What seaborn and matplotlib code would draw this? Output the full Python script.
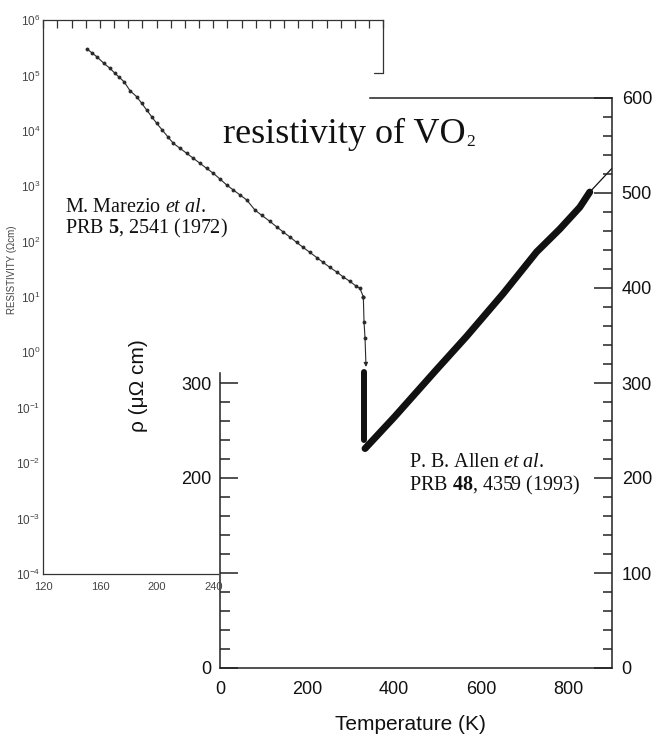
import matplotlib
matplotlib.use("Agg")
import matplotlib.pyplot as plt
import seaborn as sns
from matplotlib.ticker import FixedLocator, FixedFormatter, NullFormatter

# --- Marezio et al., PRB 5, 2541 (1972): resistivity in Ohm cm (log scale) ---
old_T = [151.1, 154.2, 157.7, 162.8, 167.1, 170.6, 173.6, 177.0, 181.2, 185.9,
         189.5, 193.0, 196.5, 200.0, 204.0, 208.2, 211.8, 216.5, 221.2, 225.9,
         230.6, 235.3, 240.0, 244.7, 249.5, 254.1, 258.9, 263.6, 269.4, 274.4,
         280.0, 284.8, 289.4, 294.1, 298.9, 303.5, 308.3, 313.0, 317.6, 322.4,
         327.1, 331.8, 336.5, 340.7, 343.5, 345.9]
old_rho = [2.96e5, 2.57e5, 2.18e5, 1.65e5, 1.34e5, 1.09e5, 9.25e4, 7.69e4, 5.30e4, 4.13e4,
           3.13e4, 2.37e4, 1.80e4, 1.37e4, 1.03e4, 7.63e3, 5.94e3, 4.83e3, 3.93e3, 3.19e3,
           2.59e3, 2.10e3, 1.71e3, 1.35e3, 1.05e3, 855, 694, 564, 371, 296,
           231, 184, 149, 121, 96.4, 78.3, 63.6, 51.6, 42.0, 34.1,
           28.3, 23.0, 19.1, 15.8, 14.3, 10.1]
# drop through the metal-insulator transition
drop_T = [345.9, 346.4, 347.1]
drop_rho = [10.1, 3.54, 1.82]
arrow_T, arrow_rho = 347.8, 0.546

old_decades = [-4, -3, -2, -1, 0, 1, 2, 3, 4, 5, 6]
old_xticks = [120, 160, 200, 240]

# --- Allen et al., PRB 48, 4359 (1993): resistivity in micro-Ohm cm ---
jump_T = [331, 331]
jump_rho = [240, 312]
metal_T = [333, 400, 497, 566, 650, 727, 780, 826, 849]
metal_rho = [231, 264, 314, 349, 394, 438, 462, 485, 501]
ext_T = [849, 900]
ext_rho = [501, 526]

new_xticks = [0, 200, 400, 600, 800]
new_yticks = [0, 100, 200, 300, 400, 500, 600]

sns.set_style("white")
plt.rcParams["font.family"] = ["Liberation Sans", "DejaVu Sans"]
plt.rcParams["mathtext.fontset"] = "custom"
plt.rcParams["mathtext.rm"] = "Liberation Serif"
plt.rcParams["mathtext.it"] = "Liberation Serif:italic"
plt.rcParams["mathtext.bf"] = "Liberation Serif:bold"

W, H = 656, 737
fig = plt.figure(figsize=(W / 100, H / 100), dpi=100)
fig.patch.set_facecolor("white")


def fig_rect(x0, y0, x1, y1):
    return [x0 / W, 1 - y1 / H, (x1 - x0) / W, (y1 - y0) / H]


INK = "#111111"
FRAME = "#222222"

# ================= linear plot (Allen) =================
ax = fig.add_axes(fig_rect(220, 98, 612, 668))
ax.set_facecolor("white")
sns.lineplot(x=jump_T, y=jump_rho, ax=ax, color=INK, lw=4.3,
             estimator=None, sort=False, solid_capstyle="round")
sns.lineplot(x=ext_T, y=ext_rho, ax=ax, color=INK, lw=0.9,
             estimator=None, sort=False)
sns.lineplot(x=metal_T, y=metal_rho, ax=ax, color=INK, lw=5,
             estimator=None, sort=False, solid_capstyle="round")
ax.set_xlim(0, 900)
ax.set_ylim(0, 600)
for s in ax.spines.values():
    s.set_color(FRAME)
    s.set_linewidth(1.1)
ax.spines["right"].set_visible(False)
ax.spines["left"].set_bounds(0, 311)
ax.spines["top"].set_bounds(345, 900)

ax.xaxis.set_major_locator(FixedLocator(new_xticks))
ax.xaxis.set_minor_locator(FixedLocator([t for t in range(50, 900, 50) if t % 200]))
ax.yaxis.set_major_locator(FixedLocator([0, 100, 200, 300]))
ax.yaxis.set_minor_locator(FixedLocator([t for t in range(20, 300, 20) if t % 100]))
ax.yaxis.set_major_formatter(FixedFormatter(["0", "", "200", "300"]))
ax.tick_params(axis="x", which="major", direction="in", length=13, width=1.1,
               labelsize=13, pad=9, top=False, colors=FRAME, labelcolor=INK)
ax.tick_params(axis="x", which="minor", direction="in", length=6.5, width=1.1, top=False,
               colors=FRAME)
ax.tick_params(axis="y", which="major", direction="in", length=13, width=1.1,
               labelsize=13, pad=6, right=False, colors=FRAME, labelcolor=INK)
ax.tick_params(axis="y", which="minor", direction="in", length=7, width=1.1, right=False,
               colors=FRAME)
ax.set_xlabel("Temperature (K)", fontsize=15, color=INK)
ax.xaxis.set_label_coords(0.487, -0.1)
ax.xaxis.label.set_va("center")
ax.set_ylabel("ρ (μΩ cm)", fontsize=15, color=INK)
ax.yaxis.set_label_coords(-0.184, 0.495)

axr = ax.twinx()
axr.set_ylim(0, 600)
for side in ("left", "top", "bottom"):
    axr.spines[side].set_visible(False)
axr.spines["right"].set_color(FRAME)
axr.spines["right"].set_linewidth(1.1)
axr.yaxis.set_major_locator(FixedLocator(new_yticks))
axr.yaxis.set_minor_locator(FixedLocator([t for t in range(20, 600, 20) if t % 100]))
axr.tick_params(axis="y", which="major", direction="in", length=13, width=1.1,
                labelsize=13, pad=7, colors=FRAME, labelcolor=INK)
axr.tick_params(axis="y", which="minor", direction="in", length=6.5, width=1.1,
                colors=FRAME)
axr.grid(False)

# ================= log plot (Marezio) =================
OLD = "#2a2a2a"
ax2 = fig.add_axes(fig_rect(43.3, 20, 383.3, 574), facecolor="none")
ax2.set_zorder(5)
sns.lineplot(x=old_T, y=old_rho, ax=ax2, color=OLD, lw=0.8, marker="o",
             markersize=2.8, markeredgewidth=0, estimator=None, sort=False)
sns.lineplot(x=drop_T, y=drop_rho, ax=ax2, color=OLD, lw=0.8, marker="o",
             markersize=2.8, markeredgewidth=0, estimator=None, sort=False)
ax2.annotate("", xy=(arrow_T, arrow_rho), xytext=(drop_T[-1], drop_rho[-1]),
             arrowprops=dict(arrowstyle="-|>", lw=0.8, color=OLD,
                             mutation_scale=6, shrinkA=0, shrinkB=0))
ax2.set_yscale("log")
ax2.set_xlim(120, 360)
ax2.set_ylim(1e-4, 1e6)
for s in ax2.spines.values():
    s.set_color("#333333")
    s.set_linewidth(0.9)
ax2.spines["top"].set_visible(False)
ax2.spines["right"].set_bounds(1.1e5, 1e6)
ax2.spines["bottom"].set_bounds(120, 243.5)
ax2.plot([0.972, 1.0], [0.904, 0.904], transform=ax2.transAxes, color="#333333", lw=0.9)

ax2.yaxis.set_major_locator(FixedLocator([10.0 ** d for d in old_decades]))
ax2.yaxis.set_minor_locator(FixedLocator([]))
ax2.yaxis.set_major_formatter(FixedFormatter(
    [r"$\mathregular{10^{%d}}$" % d for d in old_decades]))
ax2.xaxis.set_major_locator(FixedLocator(list(range(120, 241, 10))))
ax2.xaxis.set_major_formatter(FixedFormatter(
    [str(t) if t in old_xticks else "" for t in range(120, 241, 10)]))
ax2.tick_params(axis="y", direction="in", length=5, width=0.9, labelsize=8.5, pad=2,
                right=False, colors="#333333", labelcolor="#444444")
ax2.tick_params(axis="x", direction="in", length=5.5, width=0.9, labelsize=8, pad=5.5,
                top=False, colors="#333333", labelcolor="#444444")
ax2.set_xlabel("")
ax2.set_ylabel("RESISTIVITY (Ωcm)", fontsize=7, color="#444444")
ax2.yaxis.set_label_coords(-0.077, 0.549)

top = ax2.secondary_xaxis("top")
top.xaxis.set_major_locator(FixedLocator(list(range(120, 361, 10))))
top.xaxis.set_major_formatter(NullFormatter())
top.tick_params(direction="in", length=5.5, width=0.9, colors="#333333")
top.spines["top"].set_color("#333333")
top.spines["top"].set_linewidth(0.9)

# ================= annotations =================
serif = ["Liberation Serif", "DejaVu Serif"]
title_base = 1 - 142.7 / H
title = fig.text(223 / W, title_base, "resistivity of VO",
                 fontsize=26, family=serif, ha="left", va="baseline", color=INK)
renderer = fig.canvas.get_renderer()
tb = title.get_window_extent(renderer=renderer)
fig.text(tb.x1 / W + 1 / W, title_base - 3 / H, "2",
         fontsize=12.5, family=serif, ha="left", va="baseline", color=INK)

fig.text(65 / W, 1 - 211.7 / H, r"M. Marezio $\mathit{et\ al}$.",
         fontsize=14.5, family=serif, ha="left", va="baseline", color=INK)
fig.text(65 / W, 1 - 233.3 / H, r"PRB $\mathbf{5}$, 2541 (1972)",
         fontsize=14.5, family=serif, ha="left", va="baseline", color=INK)
fig.text(409 / W, 1 - 466.7 / H, r"P. B. Allen $\mathit{et\ al}$.",
         fontsize=14.5, family=serif, ha="left", va="baseline", color=INK)
fig.text(409 / W, 1 - 490 / H, r"PRB $\mathbf{48}$, 4359 (1993)",
         fontsize=14.5, family=serif, ha="left", va="baseline", color=INK)

fig.savefig("out.png", dpi=100, facecolor="white")
